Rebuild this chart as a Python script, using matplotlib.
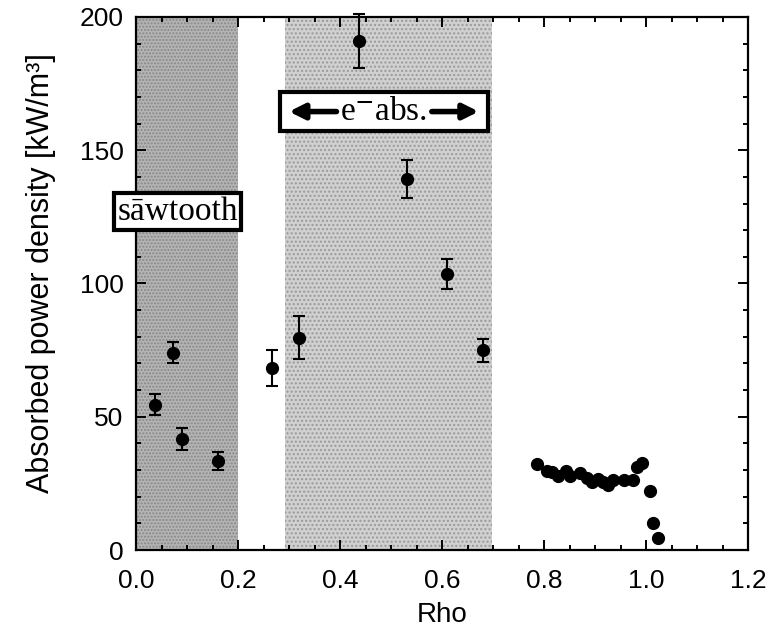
import numpy as np
import matplotlib
matplotlib.use('Agg')
import matplotlib.pyplot as plt
from matplotlib.ticker import MultipleLocator
from matplotlib.patches import Rectangle

plt.rcParams['font.family'] = ['Liberation Sans', 'DejaVu Sans']
plt.rcParams['mathtext.fontset'] = 'stix'

# core region points with error bars
rho_err = [0.037, 0.073, 0.091, 0.161, 0.267, 0.319, 0.437, 0.532, 0.609, 0.681]
pow_err = [54.5, 74.0, 41.6, 33.3, 68.3, 79.7, 191.0, 139.1, 103.4, 74.9]
err = [4.0, 4.0, 4.2, 3.3, 6.9, 8.0, 10.0, 7.2, 5.6, 4.2]

# edge region points
rho_edge = [0.786, 0.805, 0.815, 0.828, 0.843, 0.851, 0.871, 0.884, 0.894, 0.906,
            0.916, 0.926, 0.935, 0.956, 0.974, 0.982, 0.992, 1.008, 1.014, 1.024]
pow_edge = [32.3, 29.8, 29.4, 27.8, 29.8, 27.8, 28.8, 27.0, 25.7, 26.6,
            25.7, 24.4, 26.1, 26.3, 26.3, 31.3, 32.6, 22.2, 10.3, 4.4]

# shaded zones
sawtooth_zone = (0.0, 0.2)
eabs_zone = (0.292, 0.698)

fig = plt.figure(figsize=(7.71, 6.28), dpi=100)
ax = fig.add_axes([0.1764, 0.1242, 0.7938, 0.8488])

ax.axvspan(*sawtooth_zone, facecolor='#b4b4b4', edgecolor='#888888',
           hatch='.....', linewidth=0, zorder=0)
ax.axvspan(*eabs_zone, facecolor='#d0d0d0', edgecolor='#999999',
           hatch='....', linewidth=0, zorder=0)

ax.errorbar(rho_err, pow_err, yerr=err, fmt='o', color='black', ms=8.5,
            elinewidth=1.5, capsize=4, capthick=1.5, zorder=3, clip_on=False)
ax.plot(rho_edge, pow_edge, 'o', color='black', ms=8.5, zorder=3, clip_on=False)

ax.set_xlim(0, 1.2)
ax.set_ylim(0, 200)
ax.xaxis.set_minor_locator(MultipleLocator(0.05))
ax.yaxis.set_major_locator(MultipleLocator(50))
ax.yaxis.set_minor_locator(MultipleLocator(10))
ax.set_xticks([0.0, 0.2, 0.4, 0.6, 0.8, 1.0, 1.2])
ax.set_xticklabels(['0.0', '0.2', '0.4', '0.6', '0.8', '1.0', '1.2'])

ax.tick_params(which='both', direction='in', top=True, right=True, width=1.4,
               labelsize=19, colors='black')
ax.tick_params(which='major', length=7)
ax.tick_params(which='minor', length=3.5)
ax.tick_params(axis='x', pad=14)
ax.tick_params(axis='y', pad=9)
for s in ax.spines.values():
    s.set_linewidth(1.6)

ax.set_xlabel('Rho', fontsize=20, labelpad=6)
ax.set_ylabel('Absorbed power density [kW/m³]', fontsize=22, labelpad=8)
ax.yaxis.set_label_coords(-0.13, 0.52)

# "sawtooth" label box
box = dict(boxstyle='square,pad=0.1', facecolor='white', edgecolor='black', linewidth=3)
ax.text(0.082, 127, 'sāwtooth', fontsize=24, family='Liberation Serif',
        ha='center', va='center', bbox=box, clip_on=False, zorder=4)

# electron absorption label box with arrows
ax.add_patch(Rectangle((0.283, 157.3), 0.407, 14.4, facecolor='white',
                       edgecolor='black', linewidth=3, zorder=4))
ax.text(0.486, 164.3, r'e$^{\mathbf{-}}$abs.', fontsize=24, family='Liberation Serif',
        ha='center', va='center', zorder=5)
arrow = dict(arrowstyle='-|>,head_length=0.9,head_width=0.45', color='black', lw=4,
             shrinkA=0, shrinkB=0)
ax.annotate('', xy=(0.300, 164.5), xytext=(0.393, 164.5), arrowprops=arrow, zorder=5)
ax.annotate('', xy=(0.672, 164.5), xytext=(0.580, 164.5), arrowprops=arrow, zorder=5)

fig.savefig('out.png', dpi=100)
